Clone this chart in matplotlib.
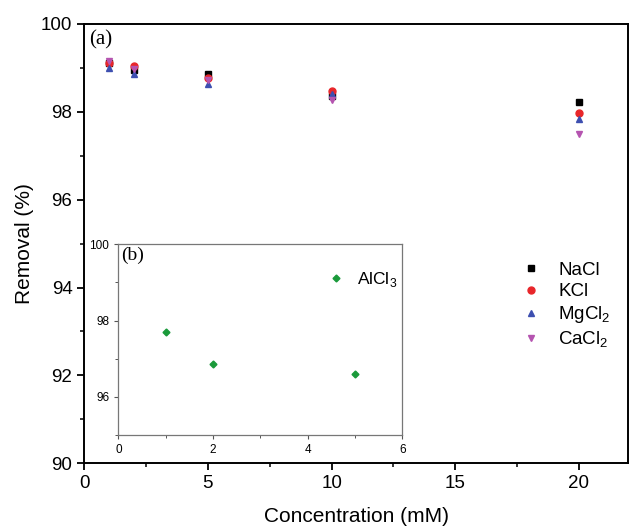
import matplotlib.pyplot as plt
from matplotlib.ticker import MultipleLocator

# ---------------------------------------------------------------------------
# Data
# ---------------------------------------------------------------------------

conc = [1, 2, 5, 10, 20]
nacl = [99.12, 98.95, 98.86, 98.37, 98.23]
kcl = [99.12, 99.05, 98.76, 98.47, 97.98]
mgcl2 = [98.99, 98.87, 98.64, 98.41, 97.83]
cacl2 = [99.16, 98.98, 98.72, 98.28, 97.49]

alcl3_conc = [1, 2, 5]
alcl3 = [97.69, 96.87, 96.61]

SERIES = [
    ("NaCl", nacl, "s", "#000000"),
    ("KCl", kcl, "o", "#e8262a"),
    (r"MgCl$_2$", mgcl2, "^", "#3d4fb0"),
    (r"CaCl$_2$", cacl2, "v", "#b554b0"),
]

plt.rcParams["font.family"] = ["Liberation Sans", "DejaVu Sans"]
plt.rcParams["mathtext.fontset"] = "custom"
plt.rcParams["mathtext.rm"] = "Liberation Sans"

fig = plt.figure(figsize=(6.3, 5.27), dpi=100)
ax = fig.add_axes([0.1338, 0.1209, 0.8635, 0.8336])

for label, vals, marker, color in SERIES:
    ax.plot(conc, vals, linestyle="none", marker=marker, color=color,
            markersize=5, label=label)

ax.set_xlim(0, 22)
ax.set_ylim(90, 100)
ax.xaxis.set_major_locator(MultipleLocator(5))
ax.xaxis.set_minor_locator(MultipleLocator(2.5))
ax.yaxis.set_major_locator(MultipleLocator(2))
ax.yaxis.set_minor_locator(MultipleLocator(1))
ax.tick_params(which="major", direction="out", length=5, width=1.3, labelsize=13.5)
ax.tick_params(which="minor", direction="out", length=3, width=1.1)
for sp in ax.spines.values():
    sp.set_linewidth(1.4)

ax.set_xlabel("Concentration (mM)", fontsize=15, labelpad=11)
ax.set_ylabel("Removal (%)", fontsize=15, labelpad=5)
ax.text(0.008, 0.985, "(a)", transform=ax.transAxes, ha="left", va="top",
        fontsize=15, family="Liberation Serif")

ax.legend(loc="upper left", bbox_to_anchor=(0.77, 0.497), frameon=False,
          fontsize=13.5, handletextpad=0.85, labelspacing=0.22, markerscale=1.0,
          handlelength=1.2)

# ---------------------------------------------------------------------------
# Inset (b)
# ---------------------------------------------------------------------------

ins = fig.add_axes([0.1878, 0.1746, 0.4508, 0.3618])
ins.plot(alcl3_conc, alcl3, linestyle="none", marker="D", color="#1a9a3a",
         markersize=3.5, label=r"AlCl$_3$")
ins.set_xlim(0, 6)
ins.set_ylim(95, 100)
ins.xaxis.set_major_locator(MultipleLocator(2))
ins.xaxis.set_minor_locator(MultipleLocator(1))
ins.yaxis.set_major_locator(MultipleLocator(2))
ins.yaxis.set_minor_locator(MultipleLocator(1))
ins.tick_params(which="major", direction="out", length=3, width=0.8,
                labelsize=8.5, colors="#555555", labelcolor="#000000")
ins.tick_params(which="minor", direction="out", length=2, width=0.7,
                colors="#555555")
for sp in ins.spines.values():
    sp.set_linewidth(0.9)
    sp.set_color("#777777")
ins.text(0.01, 0.985, "(b)", transform=ins.transAxes, ha="left", va="top",
         fontsize=14, family="Liberation Serif")
ins.legend(loc="upper left", bbox_to_anchor=(0.675, 0.945), frameon=False,
           fontsize=12.5, handletextpad=0.6, handlelength=1.2)

fig.savefig("out.png", dpi=100)
